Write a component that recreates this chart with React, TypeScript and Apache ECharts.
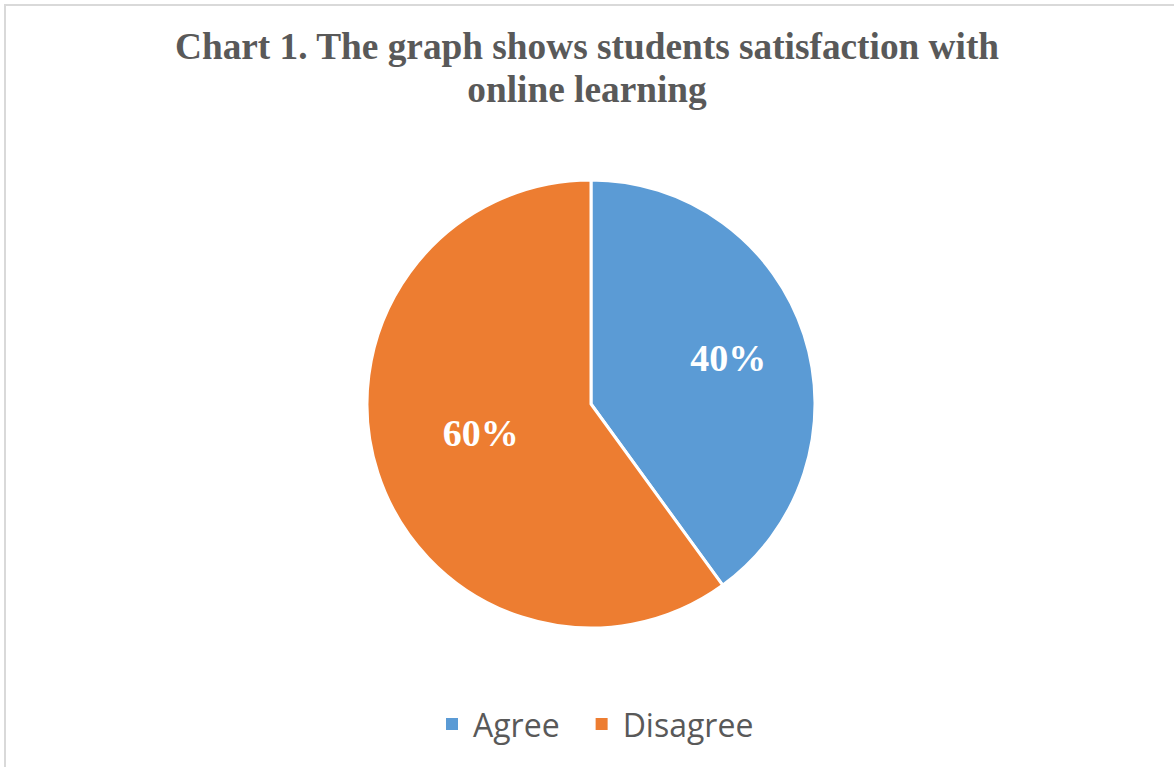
import React, { useEffect, useRef } from "react";
import * as echarts from "echarts";

const titleLines = ["Chart 1. The graph shows students satisfaction with", "online learning"];
const categories = ["Agree", "Disagree"];
const values = [40, 60];
const colors = ["#5B9BD5", "#ED7D31"];
const labelOffsets = [[28, -10], [-1, -7]];

export default function App() {
  const ref = useRef<HTMLDivElement>(null);
  useEffect(() => {
    if (!ref.current) return;
    const chart = echarts.init(ref.current, null, { renderer: "svg" });
    chart.setOption({
      animation: false,
      backgroundColor: "#ffffff",
      title: {
        text: titleLines.join("\n"),
        left: "center",
        top: 20,
        padding: [5, 5, 5, 21],
        textStyle: {
          fontFamily: "Liberation Serif",
          fontWeight: "bold",
          fontSize: 37.3,
          color: "#595959",
          lineHeight: 43,
        },
      },
      graphic: [
        {
          type: "rect",
          shape: { x: 5, y: 5, width: 1180, height: 780 },
          style: { fill: "none", stroke: "#d9d9d9", lineWidth: 2 },
          silent: true,
        },
      ],
      legend: {
        bottom: 22,
        left: 439,
        itemWidth: 14,
        itemHeight: 14,
        itemGap: 34,
        icon: "rect",
        textStyle: {
          fontFamily: "Open Sans",
          fontSize: 32,
          color: "#595959",
          padding: [0, 0, 0, 9],
        },
        data: categories,
      },
      series: [
        {
          type: "pie",
          center: [591, 404],
          radius: 224,
          startAngle: 90,
          clockwise: true,
          itemStyle: { borderColor: "#ffffff", borderWidth: 3 },
          label: {
            show: true,
            position: "inside",
            formatter: "{c}%",
            fontFamily: "Liberation Serif",
            fontWeight: "bold",
            fontSize: 38,
            color: "#ffffff",
          },
          labelLine: { show: false },
          emphasis: { disabled: true },
          data: categories.map((name, i) => ({
            name,
            value: values[i],
            itemStyle: { color: colors[i] },
            label: { offset: labelOffsets[i] },
          })),
        },
      ],
    });
    return () => chart.dispose();
  }, []);
  return (
    <div
      ref={ref}
      style={{ position: "fixed", left: 0, top: 0, width: 1174, height: 767 }}
    />
  );
}
